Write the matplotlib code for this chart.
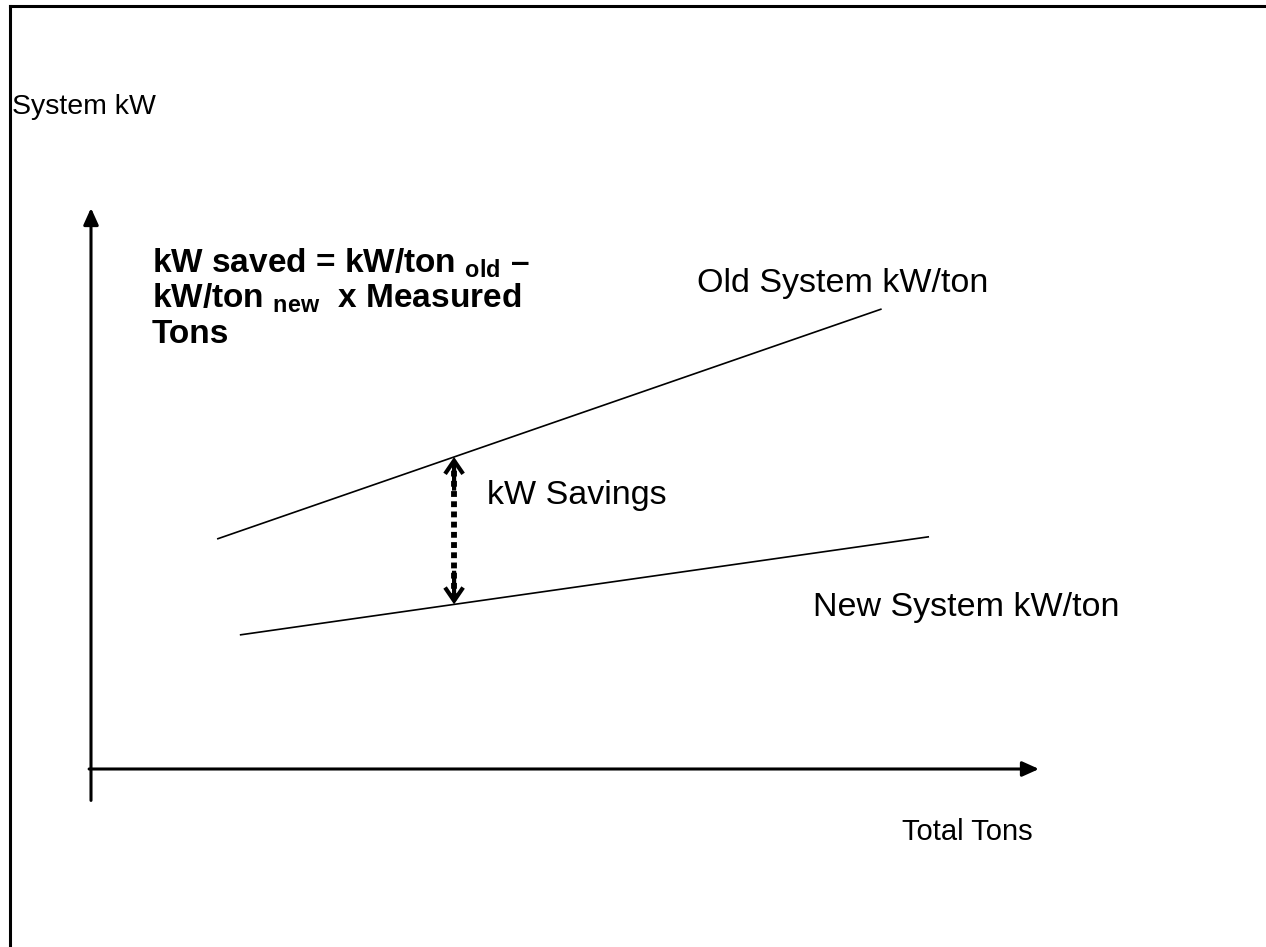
import numpy as np
import matplotlib
matplotlib.use("Agg")
import matplotlib.pyplot as plt
from matplotlib.lines import Line2D

plt.rcParams['font.family'] = ['Liberation Sans', 'DejaVu Sans']
plt.rcParams['mathtext.fontset'] = 'custom'
plt.rcParams['mathtext.rm'] = 'Liberation Sans'
plt.rcParams['mathtext.bf'] = 'Liberation Sans:bold'

# schematic lines (Total Tons vs System kW, arbitrary units)
old_tons = [1.33, 8.34]
old_kw = [4.10, 8.20]
new_tons = [1.57, 8.84]
new_kw = [2.39, 4.14]
savings_tons = 3.83

W, H = 1266, 947
fig = plt.figure(figsize=(W / 100, H / 100), dpi=100)
fig.patch.set_facecolor('white')

# axes placed so the origin sits where the arrows cross
ax = fig.add_axes([91 / W, (H - 769) / H, (1039 - 91) / W, (769 - 208) / H])
ax.set_xlim(0, 10)
ax.set_ylim(0, 10)
ax.axis('off')

# page frame (top and left only)
fig.add_artist(Line2D([10 / W, 10 / W], [0, 1 - 6 / H], color='black', lw=2.2, transform=fig.transFigure))
fig.add_artist(Line2D([10 / W, 1], [1 - 6 / H, 1 - 6 / H], color='black', lw=2.2, transform=fig.transFigure))

# axis arrows
axis_style = dict(arrowstyle='-|>,head_length=1.0,head_width=0.45', color='black', lw=2.2,
                  shrinkA=0, shrinkB=0)
ax.annotate('', xy=(0, 10), xytext=(0, -0.56), arrowprops=axis_style, annotation_clip=False)
ax.annotate('', xy=(10, 0), xytext=(-0.02, 0), arrowprops=axis_style, annotation_clip=False)

# old and new system lines
ax.plot(old_tons, old_kw, color='black', lw=1.2, solid_capstyle='butt')
ax.plot(new_tons, new_kw, color='black', lw=1.2, solid_capstyle='butt')

# savings double arrow (dotted shaft, open heads)
top = np.interp(savings_tons, old_tons, old_kw)
bot = np.interp(savings_tons, new_tons, new_kw)
ax.plot([savings_tons, savings_tons], [bot + 0.1, top - 0.1], color='black', lw=4.2,
        linestyle=(0, (1.0, 0.75)), dash_capstyle='butt')
head = dict(arrowstyle='->,head_length=0.95,head_width=0.65', color='black', lw=3.0,
            shrinkA=0, shrinkB=0, joinstyle='miter', capstyle='butt')
ax.annotate('', xy=(savings_tons, top), xytext=(savings_tons, top - 0.6), arrowprops=head)
ax.annotate('', xy=(savings_tons, bot), xytext=(savings_tons, bot + 0.6), arrowprops=head)

# labels
ax.text(6.39, 8.66, 'Old System kW/ton', fontsize=24.5, va='center', ha='left')
ax.text(7.62, 2.87, 'New System kW/ton', fontsize=24.5, va='center', ha='left')
ax.text(4.18, 4.88, 'kW Savings', fontsize=24.5, va='center', ha='left')
ax.text(8.55, -1.12, 'Total Tons', fontsize=21, va='center', ha='left')
fig.text(12 / W, 1 - 107 / H, 'System kW', fontsize=20.5, va='center', ha='left')

# formula
formula = [r'kW saved = kW/ton ${}_{\mathbf{old}}$ –',
           r'kW/ton ${}_{\mathbf{new}}$  x Measured',
           'Tons']
for i, line in enumerate(formula):
    ax.text(0.64, 8.86 - i * 0.63, line, fontsize=24, fontweight='bold',
            va='baseline', ha='left')

fig.savefig('out.png', dpi=100, facecolor='white')
